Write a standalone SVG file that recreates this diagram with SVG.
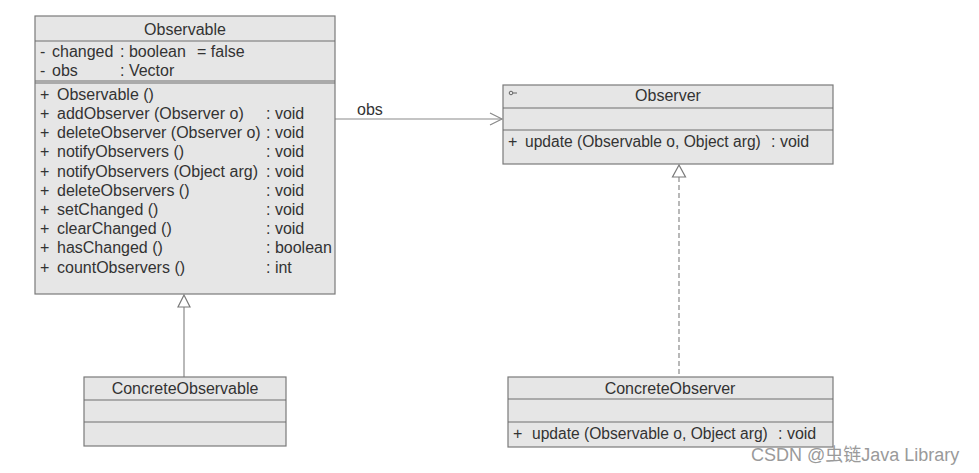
<svg xmlns="http://www.w3.org/2000/svg" width="979" height="473" viewBox="0 0 979 473">
<defs>
<style>
.box{fill:#e6e6e6;stroke:#7a7a7a;stroke-width:1.2}
.sep{stroke:#6e6e6e;stroke-width:1.2}
text{font-family:"Liberation Sans",Arial,sans-serif;font-size:16px;fill:#333}
.t{text-anchor:middle}
.u{font-size:15.6px}
.ln{stroke:#8a8a8a;stroke-width:1.2;fill:none}
.tri{fill:#fff;stroke:#7a7a7a;stroke-width:1.2}
</style>
</defs>
<rect width="979" height="473" fill="#fff"/>
<g id="connectors">
<line class="ln" x1="335" y1="119" x2="502" y2="119"/>
<polyline class="ln" points="490,113 502,119 490,125"/>
<text x="357" y="115">obs</text>
<line class="ln" x1="184" y1="307" x2="184" y2="377"/>
<polygon class="tri" points="184,295 178,307 190,307"/>
<line class="ln" x1="679" y1="177" x2="679" y2="377" stroke-dasharray="5,3"/>
<polygon class="tri" points="679,165 672.5,177 685.5,177"/>
</g>
<g id="Observable">
<rect class="box" x="35" y="16" width="300" height="278"/>
<line class="sep" x1="35" y1="41" x2="335" y2="41"/>
<line class="sep" x1="35" y1="81" x2="335" y2="81"/>
<line class="sep" x1="35" y1="83" x2="335" y2="83"/>
<text class="t" x="185" y="35">Observable</text>
<text x="40" y="57">-</text><text x="52" y="57">changed</text><text x="120" y="57">: boolean</text><text x="197" y="57">= false</text>
<text x="40" y="76">-</text><text x="52" y="76">obs</text><text x="120" y="76">: Vector</text>
<text x="40" y="100">+</text><text x="57" y="100">Observable ()</text>
<text x="40" y="119">+</text><text x="57" y="119">addObserver (Observer o)</text><text x="266" y="119">: void</text>
<text x="40" y="138">+</text><text x="57" y="138">deleteObserver (Observer o)</text><text x="266" y="138">: void</text>
<text x="40" y="157">+</text><text x="57" y="157">notifyObservers ()</text><text x="266" y="157">: void</text>
<text x="40" y="177">+</text><text x="57" y="177">notifyObservers (Object arg)</text><text x="266" y="177">: void</text>
<text x="40" y="196">+</text><text x="57" y="196">deleteObservers ()</text><text x="266" y="196">: void</text>
<text x="40" y="215">+</text><text x="57" y="215">setChanged ()</text><text x="266" y="215">: void</text>
<text x="40" y="234">+</text><text x="57" y="234">clearChanged ()</text><text x="266" y="234">: void</text>
<text x="40" y="253">+</text><text x="57" y="253">hasChanged ()</text><text x="266" y="253">: boolean</text>
<text x="40" y="273">+</text><text x="57" y="273">countObservers ()</text><text x="266" y="273">: int</text>
</g>
<g id="Observer">
<rect class="box" x="503" y="85" width="330" height="79"/>
<line class="sep" x1="503" y1="108" x2="833" y2="108"/>
<line class="sep" x1="503" y1="130" x2="833" y2="130"/>
<circle cx="511" cy="93" r="1.8" fill="none" stroke="#555" stroke-width="0.9"/>
<line x1="513" y1="93" x2="517" y2="93" stroke="#555" stroke-width="0.9"/>
<text class="t" x="668" y="101">Observer</text>
<text x="508" y="147">+</text><text class="u" x="525" y="147">update (Observable o, Object arg)</text><text x="771" y="147">: void</text>
</g>
<g id="ConcreteObservable">
<rect class="box" x="84" y="377" width="202" height="69"/>
<line class="sep" x1="84" y1="400" x2="286" y2="400"/>
<line class="sep" x1="84" y1="422" x2="286" y2="422"/>
<text class="t" x="185" y="394">ConcreteObservable</text>
</g>
<g id="ConcreteObserver">
<rect class="box" x="508" y="377" width="325" height="70"/>
<line class="sep" x1="508" y1="399" x2="833" y2="399"/>
<line class="sep" x1="508" y1="422" x2="833" y2="422"/>
<text class="t" x="670" y="394">ConcreteObserver</text>
<text x="513" y="439">+</text><text class="u" x="532" y="439">update (Observable o, Object arg)</text><text x="778" y="439">: void</text>
</g>
<text x="751" y="461" style="font-family:'Liberation Sans','Noto Sans CJK SC',sans-serif;font-size:18px;fill:#9a9a9a">CSDN @虫链Java Library</text>
</svg>
